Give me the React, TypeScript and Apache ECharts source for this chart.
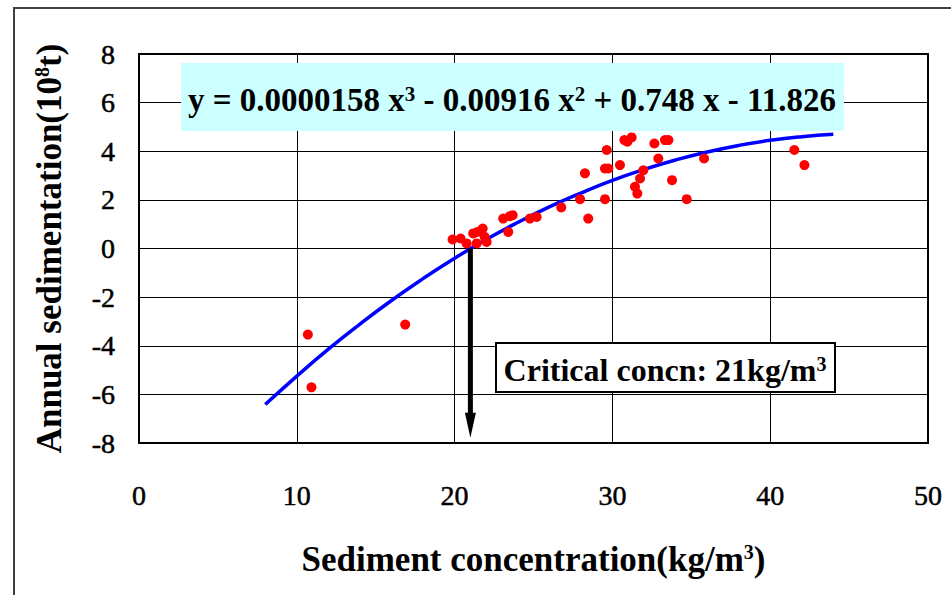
import React, { useEffect, useRef } from "react";
import * as echarts from "echarts";

// Observed data points (sediment concentration kg/m3, annual sedimentation 10^8 t)
const scatterX = [10.7, 10.93, 16.87, 19.87, 20.38, 20.76, 21.18, 21.43, 21.78, 21.4, 22.03, 21.9, 23.08, 23.5, 23.68, 23.4, 24.77, 25.2, 26.76, 27.95, 28.47, 28.26, 29.53, 29.64, 29.53, 29.74, 30.48, 30.76, 30.95, 31.22, 31.43, 31.58, 31.75, 31.96, 32.66, 33.33, 33.55, 32.91, 33.78, 34.71, 35.81, 41.53, 42.17];
const scatterY = [-3.54, -5.71, -3.13, 0.37, 0.41, 0.21, 0.62, 0.68, 0.82, 0.21, 0.27, 0.48, 1.23, 1.33, 1.37, 0.68, 1.23, 1.3, 1.69, 2.03, 1.23, 3.09, 2.03, 4.05, 3.29, 3.29, 3.43, 4.46, 4.39, 4.57, 2.54, 2.26, 2.88, 3.22, 4.32, 4.46, 4.46, 3.7, 2.81, 2.03, 3.7, 4.05, 3.43];

// Trend line
const trendX = [8, 10, 12, 14, 16, 18, 20, 22, 24, 26, 28, 30, 32, 34, 36, 38, 40, 42, 44];
const trendY = [-6.42, -5.25, -4.14, -3.11, -2.14, -1.24, -0.4, 0.37, 1.07, 1.71, 2.28, 2.8, 3.25, 3.64, 3.97, 4.24, 4.45, 4.6, 4.7];

// Critical concentration arrow
const criticalX = 21;
const arrowShaftY = [0, -7.0];
const arrowHeadY = -7.27;

// Axis ticks
const xTicks = [0, 10, 20, 30, 40, 50];
const yTicks = [-8, -6, -4, -2, 0, 2, 4, 6, 8];

const equationText = "y = 0.0000158 x{sup|3} - 0.00916 x{sup|2} + 0.748 x - 11.826";
const criticalText = "Critical concn: 21kg/m{sup|3}";
const xName = "Sediment concentration(kg/m{sup|3})";
const yName = "Annual sedimentation(10{sup|8}t)";

const FONT = "Liberation Serif";

export default function App() {
  const ref = useRef<HTMLDivElement>(null);
  useEffect(() => {
    if (!ref.current) return;
    const chart = echarts.init(ref.current, undefined, { renderer: "svg" });
    const pts = scatterX.map((x, i) => [x, scatterY[i]]);
    const trend = trendX.map((x, i) => [x, trendY[i]]);
    const supStyle = { fontSize: 20, fontWeight: "bold", fontFamily: FONT, color: "#000", verticalAlign: "top" };
    const tickLabel = {
      fontSize: 28,
      fontFamily: FONT,
      color: "#000",
      textBorderColor: "#000",
      textBorderWidth: 0.5,
    };
    chart.setOption({
      animation: false,
      backgroundColor: "#fff",
      textStyle: { fontFamily: FONT, color: "#000" },
      grid: {
        left: 139,
        top: 54,
        right: 23,
        bottom: 152,
        show: true,
        borderColor: "#000",
        borderWidth: 2,
      },
      xAxis: {
        type: "value",
        min: xTicks[0],
        max: xTicks[xTicks.length - 1],
        interval: 10,
        axisLine: { show: false },
        axisTick: { show: false },
        splitLine: { show: true, lineStyle: { color: "#000", width: 1 } },
        axisLabel: { ...tickLabel, margin: 38 },
        name: xName,
        nameLocation: "middle",
        nameGap: 99,
        nameTextStyle: {
          fontSize: 35,
          fontWeight: "bold",
          fontFamily: FONT,
          color: "#000",
          rich: { sup: supStyle },
        },
      },
      yAxis: {
        type: "value",
        min: yTicks[0],
        max: yTicks[yTicks.length - 1],
        interval: 2,
        axisLine: { show: false },
        axisTick: { show: false },
        splitLine: { show: true, lineStyle: { color: "#000", width: 1 } },
        axisLabel: { ...tickLabel, margin: 24, padding: [6, 0, 0, 0] },
        name: yName,
        nameLocation: "middle",
        nameGap: 72,
        nameTextStyle: {
          fontSize: 35,
          fontWeight: "bold",
          fontFamily: FONT,
          color: "#000",
          rich: { sup: supStyle },
        },
      },
      series: [
        {
          type: "line",
          data: trend,
          smooth: true,
          showSymbol: false,
          lineStyle: { color: "#0000FF", width: 3.5 },
          z: 3,
        },
        {
          type: "scatter",
          data: pts,
          symbol: "circle",
          symbolSize: 10,
          itemStyle: { color: "#FF0000", opacity: 1 },
          z: 4,
        },
        {
          type: "line",
          data: arrowShaftY.map((y) => [criticalX, y]),
          showSymbol: false,
          lineStyle: { color: "#000", width: 5 },
          z: 5,
        },
        {
          type: "scatter",
          data: [[criticalX, arrowHeadY]],
          symbol: "triangle",
          symbolSize: [11, 25],
          symbolRotate: 180,
          itemStyle: { color: "#000", opacity: 1 },
          z: 5,
        },
      ],
      graphic: [
        {
          type: "rect",
          z: 0,
          silent: true,
          shape: { x: 14, y: 8, width: 1000, height: 1000 },
          style: { fill: "none", stroke: "#404040", lineWidth: 2 },
        },
        {
          type: "rect",
          z: 10,
          shape: { x: 181, y: 63, width: 663, height: 68 },
          style: { fill: "#CCFFFF" },
        },
        {
          type: "text",
          z: 11,
          x: 512,
          y: 100,
          style: {
            text: equationText,
            font: `bold 33px ${FONT}`,
            fill: "#000",
            align: "center",
            verticalAlign: "middle",
            rich: { sup: { fontSize: 21, fontWeight: "bold", fontFamily: FONT, fill: "#000", verticalAlign: "top" } },
          },
        },
        {
          type: "rect",
          z: 10,
          shape: { x: 496, y: 343, width: 339, height: 49 },
          style: { fill: "#fff", stroke: "#000", lineWidth: 2 },
        },
        {
          type: "text",
          z: 11,
          x: 665,
          y: 370,
          style: {
            text: criticalText,
            font: `bold 32px ${FONT}`,
            fill: "#000",
            align: "center",
            verticalAlign: "middle",
            rich: { sup: { fontSize: 20, fontWeight: "bold", fontFamily: FONT, fill: "#000", verticalAlign: "top" } },
          },
        },
      ],
    });
    return () => chart.dispose();
  }, []);
  return <div ref={ref} style={{ position: "absolute", left: 0, top: 0, width: 951, height: 595 }} />;
}
